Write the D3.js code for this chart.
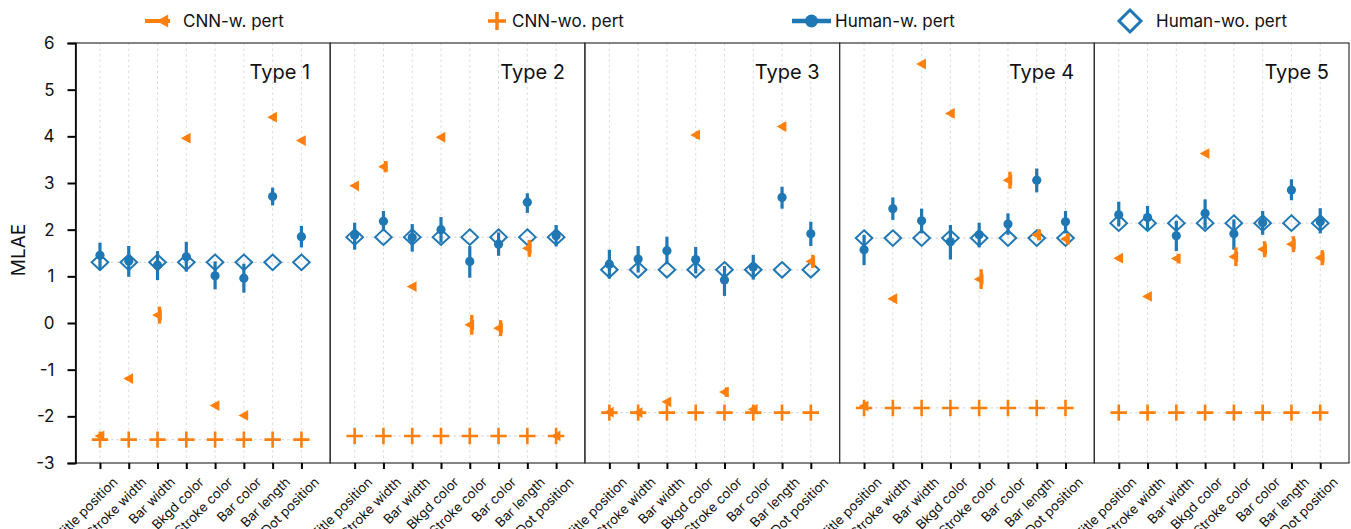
<!DOCTYPE html>
<html>
<head>
<meta charset="utf-8">
<script src="https://cdn.jsdelivr.net/npm/d3@7"></script>
<style>
  html, body { margin: 0; padding: 0; background: #fff; }
  svg { display: block; font-family: Inter, "DejaVu Sans", sans-serif; }
</style>
</head>
<body>
<svg id="chart" width="1351" height="529"></svg>
<script>
// ---------------- DATA ----------------
const categories = ["Title position","Stroke width","Bar width","Bkgd color","Stroke color","Bar color","Bar length","Dot position"];
const types = ["Type 1","Type 2","Type 3","Type 4","Type 5"];
const yTicks = [-3,-2,-1,0,1,2,3,4,5,6];
const legendLabels = ["CNN-w. pert","CNN-wo. pert","Human-w. pert","Human-wo. pert"];

const humanWoMean = [1.30, 1.84, 1.14, 1.82, 2.14];
const cnnWoMean = [-2.50, -2.42, -1.92, -1.82, -1.92];

const humanWMean = [
  [1.45, 1.33, 1.24, 1.42, 1.01, 0.96, 2.71, 1.85],
  [1.88, 2.18, 1.83, 2.00, 1.32, 1.69, 2.59, 1.87],
  [1.26, 1.37, 1.55, 1.36, 0.92, 1.20, 2.69, 1.91],
  [1.57, 2.45, 2.19, 1.74, 1.89, 2.12, 3.06, 2.17],
  [2.32, 2.26, 1.87, 2.35, 1.91, 2.15, 2.85, 2.17]
];
const humanWLow = [
  [1.15, 0.99, 0.92, 1.10, 0.72, 0.65, 2.52, 1.62],
  [1.57, 1.97, 1.53, 1.72, 0.97, 1.44, 2.36, 1.64],
  [0.95, 1.08, 1.26, 1.06, 0.58, 0.93, 2.45, 1.65],
  [1.24, 2.21, 1.92, 1.36, 1.62, 1.89, 2.80, 1.92],
  [2.07, 2.00, 1.54, 2.02, 1.57, 1.89, 2.63, 1.92]
];
const humanWHigh = [
  [1.72, 1.65, 1.54, 1.74, 1.32, 1.27, 2.90, 2.08],
  [2.15, 2.40, 2.12, 2.27, 1.65, 1.94, 2.78, 2.10],
  [1.57, 1.65, 1.85, 1.63, 1.22, 1.46, 2.92, 2.17],
  [1.89, 2.69, 2.45, 2.10, 2.15, 2.35, 3.31, 2.40],
  [2.60, 2.51, 2.19, 2.65, 2.22, 2.40, 3.08, 2.46]
];
const cnnWMean = [
  [-2.42, -1.19, 0.17, 3.96, -1.77, -1.98, 4.41, 3.91],
  [2.94, 3.35, 0.78, 3.98, -0.04, -0.11, 1.60, -2.42],
  [-1.91, -1.92, -1.69, 4.03, -1.48, -1.85, 4.21, 1.32],
  [-1.78, 0.52, 5.55, 4.49, 0.94, 3.06, 1.89, 1.80],
  [1.39, 0.57, 1.38, 3.63, 1.42, 1.58, 1.69, 1.40]
];
const cnnWErr = [
  [0.05, 0.04, 0.16, 0.05, 0.05, 0.02, 0.06, 0.05],
  [0.02, 0.10, 0.05, 0.05, 0.19, 0.15, 0.16, 0.05],
  [0.05, 0.05, 0.02, 0.06, 0.08, 0.05, 0.06, 0.12],
  [0.05, 0.04, 0.02, 0.06, 0.19, 0.16, 0.10, 0.10],
  [0.05, 0.05, 0.08, 0.05, 0.18, 0.15, 0.15, 0.14]
];

// ---------------- LAYOUT ----------------
const ORANGE = "#ff7f0e", BLUE = "#1f77b4";
const svg = d3.select("#chart");
const plotLeft = 75.5, plotRight = 1349, plotTop = 43, plotBottom = 463;
const pw = (plotRight - plotLeft) / types.length;
const y = d3.scaleLinear().domain([-3, 6]).range([plotBottom, plotTop]);

const triPath = (s) => `M${-s},0L${s*0.8},${-s}L${s*0.8},${s}Z`;
const plusPath = (s) => `M${-s},0H${s}M0,${-s}V${s}`;
const diamondPath = (w, h) => `M0,${-h}L${w},0L0,${h}L${-w},0Z`;

types.forEach((t, k) => {
  const left = plotLeft + k * pw;
  const x = d3.scaleLinear().domain([-0.85, 8.0]).range([left, left + pw]);
  const g = svg.append("g");
  const idx = d3.range(categories.length);

  // vertical grid
  g.selectAll(".vg").data(idx).join("line")
    .attr("x1", d => x(d)).attr("x2", d => x(d))
    .attr("y1", plotTop).attr("y2", plotBottom)
    .attr("stroke", "#dcdcdc").attr("stroke-width", 1).attr("stroke-dasharray", "2.5,3");

  // dotted connecting lines for wo. pert series
  [humanWoMean[k], cnnWoMean[k]].forEach(v => {
    g.append("line")
      .attr("x1", x(0)).attr("x2", x(categories.length - 1))
      .attr("y1", y(v)).attr("y2", y(v))
      .attr("stroke", "#dcdcdc").attr("stroke-width", 1.2).attr("stroke-dasharray", "2.5,3");
  });

  // Human-wo diamonds
  g.selectAll(".hd").data(idx).join("path")
    .attr("d", diamondPath(8.3, 7.8))
    .attr("transform", d => `translate(${x(d)},${y(humanWoMean[k])})`)
    .attr("fill", "none").attr("stroke", BLUE).attr("stroke-width", 2);

  // Human-w error bars + dots
  g.selectAll(".he").data(idx).join("line")
    .attr("x1", d => x(d)).attr("x2", d => x(d))
    .attr("y1", d => y(humanWLow[k][d])).attr("y2", d => y(humanWHigh[k][d]))
    .attr("stroke", BLUE).attr("stroke-width", 3.2);
  g.selectAll(".hc").data(idx).join("circle")
    .attr("cx", d => x(d)).attr("cy", d => y(humanWMean[k][d])).attr("r", 4.6)
    .attr("fill", BLUE);

  // CNN-wo crosses
  g.selectAll(".cp").data(idx).join("path")
    .attr("d", plusPath(8.2))
    .attr("transform", d => `translate(${x(d)},${y(cnnWoMean[k])})`)
    .attr("fill", "none").attr("stroke", ORANGE).attr("stroke-width", 2.6);

  // CNN-w error bars + triangles
  g.selectAll(".ce").data(idx).join("line")
    .attr("x1", d => x(d) + 2).attr("x2", d => x(d) + 2)
    .attr("y1", d => y(cnnWMean[k][d] - cnnWErr[k][d]) + 1)
    .attr("y2", d => y(cnnWMean[k][d] + cnnWErr[k][d]) - 1)
    .attr("stroke", ORANGE).attr("stroke-width", 3.4);
  g.selectAll(".ct").data(idx).join("path")
    .attr("d", triPath(5.4))
    .attr("transform", d => `translate(${x(d)},${y(cnnWMean[k][d])})`)
    .attr("fill", ORANGE);

  // panel frame
  g.append("rect")
    .attr("x", left).attr("y", plotTop).attr("width", pw).attr("height", plotBottom - plotTop)
    .attr("fill", "none").attr("stroke", "#333").attr("stroke-width", 1.2);

  // type label
  g.append("text")
    .attr("x", left + pw - 20).attr("y", 79)
    .attr("text-anchor", "end").attr("font-size", 20).attr("fill", "#111")
    .text(t);

  // x axis
  const xAxis = d3.axisBottom(x).tickValues(idx).tickFormat(d => categories[d]).tickSize(6).tickSizeOuter(0);
  const ax = svg.append("g").attr("transform", `translate(0,${plotBottom})`).call(xAxis);
  ax.select(".domain").remove();
  ax.selectAll(".tick line").attr("stroke", "#000").attr("stroke-width", 2);
  ax.selectAll(".tick text")
    .attr("font-size", 13.2).attr("font-family", "Inter, sans-serif").attr("fill", "#111")
    .attr("text-anchor", "end")
    .attr("dy", null).attr("y", null)
    .attr("transform", "translate(18,20) rotate(-45)");
});

// y axis
const yAxis = d3.axisLeft(y).tickValues(yTicks).tickFormat(d => String(d)).tickSize(8).tickPadding(13);
const ya = svg.append("g").attr("transform", `translate(${plotLeft},0)`).call(yAxis);
ya.select(".domain").attr("stroke", "#000").attr("stroke-width", 1.6);
ya.selectAll(".tick line").attr("stroke", "#000").attr("stroke-width", 2);
ya.selectAll(".tick text").attr("font-size", 17).attr("font-family", "Inter, sans-serif").attr("fill", "#111");

svg.append("text")
  .attr("transform", `translate(25,250) rotate(-90)`)
  .attr("text-anchor", "middle").attr("font-size", 19).attr("fill", "#111")
  .text("MLAE");

// legend
const ly = 21;
const leg = svg.append("g");
// CNN-w
leg.append("line").attr("x1", 145).attr("x2", 170).attr("y1", ly).attr("y2", ly)
  .attr("stroke", ORANGE).attr("stroke-width", 4);
leg.append("path").attr("d", triPath(6.5)).attr("transform", `translate(163,${ly})`).attr("fill", ORANGE);
// CNN-wo
leg.append("path").attr("d", plusPath(9)).attr("transform", `translate(497,${ly})`)
  .attr("fill", "none").attr("stroke", ORANGE).attr("stroke-width", 3.5);
// Human-w
leg.append("line").attr("x1", 792).attr("x2", 831).attr("y1", ly).attr("y2", ly)
  .attr("stroke", BLUE).attr("stroke-width", 4.5);
leg.append("circle").attr("cx", 811.5).attr("cy", ly).attr("r", 6.5).attr("fill", BLUE);
// Human-wo
leg.append("path").attr("d", diamondPath(11, 11)).attr("transform", `translate(1130,${ly})`)
  .attr("fill", "none").attr("stroke", BLUE).attr("stroke-width", 3);

const legX = [183, 512, 835, 1156];
legendLabels.forEach((l, i) => {
  leg.append("text").attr("x", legX[i]).attr("y", ly).attr("dy", "0.35em")
    .attr("font-size", 17).attr("fill", "#111").text(l);
});
</script>
</body>
</html>
